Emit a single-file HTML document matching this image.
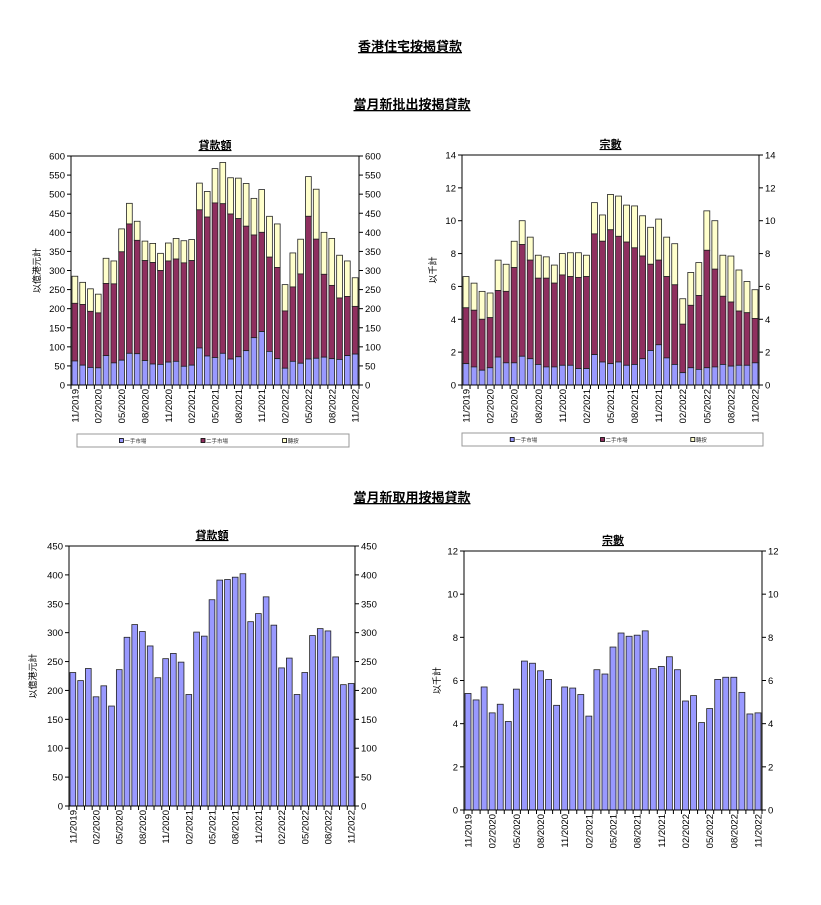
<!DOCTYPE html>
<html><head><meta charset="utf-8">
<style>
body{margin:0;background:#fff;}
svg{display:block;font-family:"Liberation Sans","Noto Sans CJK TC",sans-serif;}
</style></head>
<body>
<svg id="page" width="821" height="905" viewBox="0 0 821 905" xmlns="http://www.w3.org/2000/svg">
<text x="410" y="51" text-anchor="middle" font-size="13" font-weight="bold" text-decoration="underline">香港住宅按揭貸款</text>
<text x="412" y="109" text-anchor="middle" font-size="13" font-weight="bold" text-decoration="underline">當月新批出按揭貸款</text>
<text x="412" y="502" text-anchor="middle" font-size="13" font-weight="bold" text-decoration="underline">當月新取用按揭貸款</text>
</svg>
<script>
const months = ["11/2019","12/2019","01/2020","02/2020","03/2020","04/2020","05/2020","06/2020","07/2020","08/2020","09/2020","10/2020","11/2020","12/2020","01/2021","02/2021","03/2021","04/2021","05/2021","06/2021","07/2021","08/2021","09/2021","10/2021","11/2021","12/2021","01/2022","02/2022","03/2022","04/2022","05/2022","06/2022","07/2022","08/2022","09/2022","10/2022","11/2022"];
// Approved amounts (HK$100M): primary, cumulative primary+secondary, total
const amtPrimary = [63,52,46,45,77,58,65,83,82,64,55,54,60,62,49,52,97,76,72,83,68,74,90,124,140,88,69,44,62,57,68,70,73,69,67,77,81];
const amtPrimSecond = [214,211,193,189,266,265,349,422,379,326,321,300,325,330,320,326,459,440,477,475,448,436,416,393,400,335,308,194,257,291,442,382,290,261,228,232,206];
const amtTotal = [285,269,252,238,332,325,409,476,429,377,371,345,372,384,378,381,529,507,567,583,543,542,528,489,512,442,422,263,346,382,546,513,400,384,340,325,281];
// Approved counts (thousand)
const cntPrimary = [1.3,1.1,0.9,1.05,1.7,1.35,1.35,1.75,1.6,1.25,1.1,1.1,1.2,1.2,1.0,1.0,1.85,1.4,1.3,1.4,1.2,1.25,1.6,2.1,2.45,1.65,1.25,0.75,1.05,0.95,1.05,1.1,1.25,1.15,1.2,1.2,1.35];
const cntPrimSecond = [4.7,4.55,4.0,4.1,5.75,5.7,7.15,8.55,7.6,6.5,6.5,6.2,6.7,6.6,6.55,6.6,9.2,8.75,9.45,9.05,8.7,8.35,7.85,7.35,7.6,6.6,6.1,3.7,4.85,5.45,8.2,7.05,5.4,5.05,4.5,4.4,4.05];
const cntTotal = [6.6,6.2,5.7,5.6,7.6,7.35,8.75,10.0,9.0,7.9,7.8,7.3,8.0,8.05,8.05,7.9,11.1,10.35,11.6,11.5,10.95,10.9,10.3,9.6,10.1,9.0,8.6,5.25,6.85,7.45,10.6,10.0,7.9,7.85,7.0,6.3,5.8];
// Drawdown
const drawAmt = [231,217,238,189,208,173,236,292,314,302,277,222,255,264,249,193,301,294,357,391,392,396,402,319,333,362,313,239,256,193,231,295,307,303,258,210,212];
const drawCnt = [5.4,5.1,5.7,4.5,4.9,4.1,5.6,6.9,6.8,6.45,6.05,4.85,5.7,5.65,5.35,4.35,6.5,6.3,7.55,8.2,8.05,8.1,8.3,6.55,6.65,7.1,6.5,5.05,5.3,4.05,4.7,6.05,6.15,6.15,5.45,4.45,4.5];
const ticksAmt600 = [0,50,100,150,200,250,300,350,400,450,500,550,600];
const ticksCnt14 = [0,2,4,6,8,10,12,14];
const ticksAmt450 = [0,50,100,150,200,250,300,350,400,450];
const ticksCnt12 = [0,2,4,6,8,10,12];
const legendLabels = ["一手市場","二手市場","轉按"];

const NS="http://www.w3.org/2000/svg";
const svg=document.getElementById('page');
function mk(tag,attrs,parent,txt){const e=document.createElementNS(NS,tag);for(const k in attrs)e.setAttribute(k,attrs[k]);if(txt!==undefined)e.textContent=txt;(parent||svg).appendChild(e);return e;}
const C1="#9999ff",C2="#8f2f5f",C3="#ffffcc";

function chart(o){
  const g=mk('g',{});
  
  
  const {x0,x1,y0,y1,max}=o;
  const ys=v=>y1-(v/max)*(y1-y0);
  const n=months.length, slot=(x1-x0)/n;
  const xs=i=>x0+i*slot;
  const t=mk('text',{x:(x0+x1)/2,y:y0-7,'text-anchor':'middle','font-size':11,'font-weight':'bold','text-decoration':'underline'},g,o.title);
  
  
  const yt=mk('text',{x:0,y:0,'font-size':9,'text-anchor':'middle',transform:`translate(${o.yTitleX},${(y0+y1)/2}) rotate(-90)`},g,o.ytitle);
  
  
  o.ticks.forEach(v=>{
    const y=ys(v);
    mk('line',{x1:x0-4,x2:x0,y1:y,y2:y,stroke:'#000','stroke-width':1},g);
    mk('line',{x1:x1,x2:x1+4,y1:y,y2:y,stroke:'#000','stroke-width':1},g);
    const l=mk('text',{x:x0-6,y:y+3.5,'text-anchor':'end','font-size':9.5},g,String(v));
    
    
    const r=mk('text',{x:x1+6,y:y+3.5,'text-anchor':'start','font-size':9.5},g,String(v));
    
    
  });
  const bw=slot*0.74, off=(slot-bw)/2;
  for(let i=0;i<n;i++){
    const bx=xs(i)+off;
    o.series.forEach(s=>{
      const top=s.vals[i], bot=s.base?s.base[i]:0;
      const b=mk('rect',{x:bx,y:ys(top),width:bw,height:ys(bot)-ys(top),fill:s.color,stroke:'#222','stroke-width':0.8},g);
      
      
    });
    mk('line',{x1:xs(i),x2:xs(i),y1:y1,y2:y1+4,stroke:'#000'},g);
    if(i%3===0){
      const lx=xs(i)+slot/2+3.5;
      const l=mk('text',{x:0,y:0,'font-size':9.5,'text-anchor':'end',transform:`translate(${lx},${y1+4}) rotate(-90)`},g,months[i]);
      
      
    }
  }
  mk('line',{x1:x1,x2:x1,y1:y1,y2:y1+4,stroke:'#000'},g);
  mk('rect',{x:x0,y:y0,width:x1-x0,height:y1-y0,fill:'none',stroke:'#000','stroke-width':1},g);
  if(o.legend){
    const L=o.legend;
    const lg=mk('g',{},g);
    
    
    mk('rect',{x:L.x,y:L.y,width:L.w,height:13,fill:'#fff',stroke:'#999'},lg);
    const cols=[C1,C2,C3];
    legendLabels.forEach((lab,k)=>{
      const cx=L.x+L.w*(0.2+k*0.3);
      const e=mk('g',{},lg);
      
      
      mk('rect',{x:cx-12,y:L.y+4.5,width:4,height:4,fill:cols[k],stroke:'#000','stroke-width':0.8},e);
      mk('text',{x:cx-7,y:L.y+9,'font-size':5.5,fill:'#333'},e,lab);
    });
  }
}

chart({name:'approved-amount-chart',title:'貸款額',ytitle:'以億港元計',yTitleX:40,x0:71,x1:359,y0:156,y1:385,max:600,ticks:ticksAmt600,
  series:[{name:'switch',vals:amtTotal,base:amtPrimSecond,color:C3},{name:'secondary',vals:amtPrimSecond,base:amtPrimary,color:C2},{name:'primary',vals:amtPrimary,color:C1}],
  legend:{x:77,y:434,w:272}});
chart({name:'approved-count-chart',title:'宗數',ytitle:'以千計',yTitleX:436,x0:462,x1:759,y0:155,y1:385,max:14,ticks:ticksCnt14,
  series:[{name:'switch',vals:cntTotal,base:cntPrimSecond,color:C3},{name:'secondary',vals:cntPrimSecond,base:cntPrimary,color:C2},{name:'primary',vals:cntPrimary,color:C1}],
  legend:{x:462,y:433,w:301}});
chart({name:'drawdown-amount-chart',title:'貸款額',ytitle:'以億港元計',yTitleX:36,x0:69,x1:355,y0:546,y1:806,max:450,ticks:ticksAmt450,
  series:[{name:'drawdown-amount',vals:drawAmt,color:C1}]});
chart({name:'drawdown-count-chart',title:'宗數',ytitle:'以千計',yTitleX:440,x0:464,x1:762,y0:551,y1:810,max:12,ticks:ticksCnt12,
  series:[{name:'drawdown-count',vals:drawCnt,color:C1}]});
</script>
</body></html>
